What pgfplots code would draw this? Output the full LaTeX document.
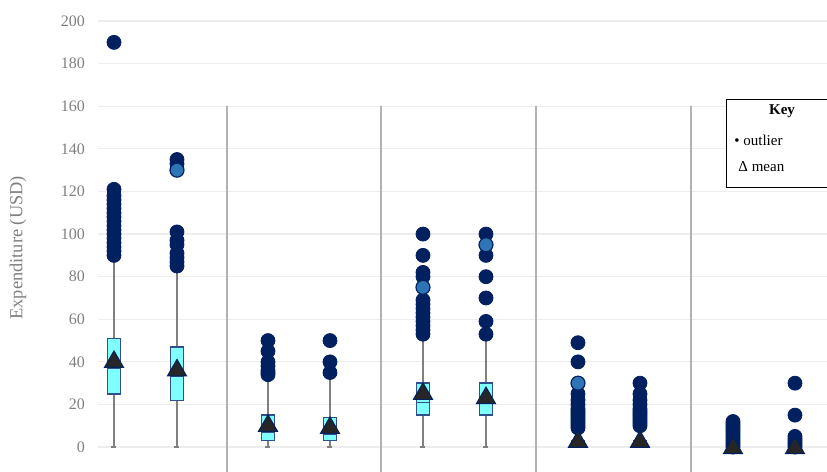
\documentclass[border=0pt]{standalone}
\usepackage{fontspec}
\setmainfont{Liberation Serif}
\usepackage{pgfplots}
\pgfplotsset{compat=1.18}
\usepgfplotslibrary{statistics}
\definecolor{navy}{HTML}{002060}
\definecolor{lblue}{HTML}{2E75B6}
\definecolor{boxfill}{HTML}{80FFFF}
\definecolor{boxedge}{HTML}{2F4F8F}
\definecolor{tickgray}{HTML}{7F7F7F}
\definecolor{gridgray}{HTML}{EDEDED}
\begin{document}
\begin{tikzpicture}
\begin{axis}[
  at={(49pt,0pt)}, anchor=south west,
  scale only axis, width=364.5pt, height=236pt,
  xmin=98, xmax=827, ymin=-11.7, ymax=209.9,
  axis line style={draw=none},
  xtick=\empty,
  ytick={0,20,...,200},
  major tick length=0pt,
  ymajorgrids, grid style={gridgray, line width=0.6pt},
  /pgf/number format/assume math mode=true,
  yticklabel style={font=\fontsize{8}{9}\selectfont, text=tickgray, anchor=east, xshift=-3pt},
  ylabel={Expenditure (USD)},
  every axis y label/.style={at={(rel axis cs:0,0.475)}, rotate=90, anchor=center, yshift=40pt, font=\fontsize{9.2}{11}\selectfont, text=tickgray},
  boxplot/draw direction=y,
  boxplot/box extend=13,
  boxplot/whisker extend=5,
  boxplot/every box/.style={draw=boxedge, fill=boxfill, line width=0.7pt, solid},
  boxplot/every whisker/.style={draw=gray, line width=0.6pt, solid},
  boxplot/every median/.style={draw=boxedge, line width=0.7pt, solid},
  clip=false,
]
% dividers
\addplot[gray!60, line width=0.7pt] coordinates {(227,160) (227,-11.7)};
\addplot[gray!60, line width=0.7pt] coordinates {(381,160) (381,-11.7)};
\addplot[gray!60, line width=0.7pt] coordinates {(536,160) (536,-11.7)};
\addplot[gray!60, line width=0.7pt] coordinates {(691,160) (691,-11.7)};
% boxes
\addplot[boxplot prepared={draw position=114, lower whisker=0, lower quartile=25, median=37, upper quartile=51, upper whisker=89}, solid, mark=none] coordinates {};
\addplot[boxplot prepared={draw position=177, lower whisker=0, lower quartile=22, median=33, upper quartile=47, upper whisker=83}, solid, mark=none] coordinates {};
\addplot[boxplot prepared={draw position=268, lower whisker=0, lower quartile=3, median=7, upper quartile=15, upper whisker=33}, solid, mark=none] coordinates {};
\addplot[boxplot prepared={draw position=330, lower whisker=0, lower quartile=3, median=6, upper quartile=14, upper whisker=33}, solid, mark=none] coordinates {};
\addplot[boxplot prepared={draw position=423, lower whisker=0, lower quartile=15, median=21, upper quartile=30, upper whisker=52}, solid, mark=none] coordinates {};
\addplot[boxplot prepared={draw position=486, lower whisker=0, lower quartile=15, median=21, upper quartile=30, upper whisker=52}, solid, mark=none] coordinates {};
\addplot[boxplot prepared={draw position=578, lower whisker=0, lower quartile=0, median=0, upper quartile=3, upper whisker=8}, solid, mark=none] coordinates {};
\addplot[boxplot prepared={draw position=640, lower whisker=0, lower quartile=0, median=0, upper quartile=3, upper whisker=9}, solid, mark=none] coordinates {};
\addplot[boxplot prepared={draw position=733, lower whisker=0, lower quartile=0, median=0, upper quartile=0.5, upper whisker=0.5}, solid, mark=none] coordinates {};
\addplot[boxplot prepared={draw position=795, lower whisker=0, lower quartile=0, median=0, upper quartile=0.5, upper whisker=0.5}, solid, mark=none] coordinates {};
% outliers (dark)
\addplot[only marks, mark=*, mark size=3.5pt, mark options={fill=navy, draw=navy}] coordinates {
(114,90)(114,92)(114,94)(114,96)(114,98)(114,100)(114,102)(114,104)(114,106)(114,108)(114,110)(114,112)(114,114)(114,116)(114,118)(114,121)(114,190)
(177,85)(177,87)(177,89)(177,91)(177,95)(177,97)(177,101)(177,133)(177,135)
(268,34)(268,35)(268,36)(268,38)(268,40)(268,45)(268,50)
(330,35)(330,40)(330,50)
(423,53)(423,55)(423,57)(423,59)(423,61)(423,63)(423,65)(423,67)(423,69)(423,80)(423,82)(423,90)(423,100)
(486,53)(486,59)(486,70)(486,80)(486,90)(486,100)
(578,9)(578,10)(578,11)(578,12)(578,13)(578,14)(578,15)(578,16)(578,17)(578,18)(578,20)(578,22)(578,25)(578,40)(578,49)
(640,10)(640,11)(640,12)(640,13)(640,14)(640,15)(640,16)(640,17)(640,18)(640,20)(640,22)(640,25)(640,30)
(733,0)(733,1)(733,2)(733,3)(733,4)(733,5)(733,6)(733,7)(733,8)(733,9)(733,10)(733,11)(733,12)
(795,0)(795,1)(795,2)(795,3)(795,4)(795,5)(795,15)(795,30)
};
% outliers (light)
\addplot[only marks, mark=*, mark size=3.5pt, mark options={fill=lblue, draw=navy, line width=0.6pt}] coordinates {
(177,130)(423,75)(486,95)(578,30)
};
% means
\addplot[only marks, mark=triangle*, mark size=5.5pt, mark options={fill=black!85, draw=navy, line width=0.5pt}] coordinates {
(114,40)(177,36)(268,10)(330,9)(423,25)(486,23)(578,2.5)(640,2.5)(733,-0.5)(795,-0.5)
};
% key
\draw[black, line width=0.5pt, fill=white] (axis cs:727,163.4) rectangle (axis cs:880,122.1);
\node[font=\fontsize{7.5}{9}\selectfont\bfseries, anchor=center] at (axis cs:782,157.5) {Key};
\node[font=\fontsize{7.5}{9}\selectfont, anchor=west, inner sep=0pt] at (axis cs:734,144.1) {• outlier};
\node[font=\fontsize{7.5}{9}\selectfont, anchor=west, inner sep=0pt] at (axis cs:738,131.5) {Δ mean};
\end{axis}
\pgfresetboundingbox
\path (0,0) rectangle (413.5pt,236pt);
\end{tikzpicture}
\end{document}
